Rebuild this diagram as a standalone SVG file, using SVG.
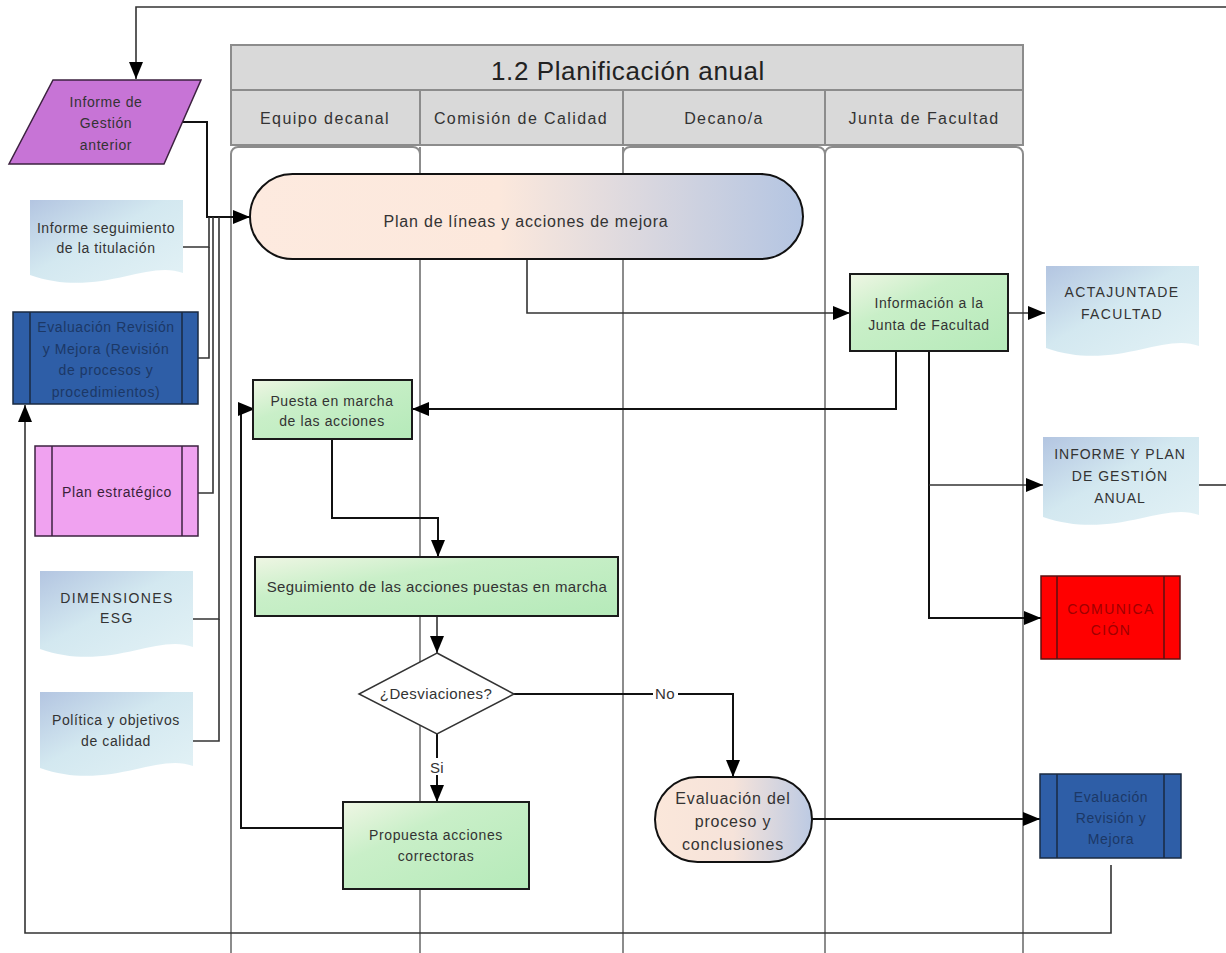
<svg xmlns="http://www.w3.org/2000/svg" width="1226" height="953" viewBox="0 0 1226 953">
  <defs>
    <style>
      text { font-family: "Liberation Sans", Arial, sans-serif; fill: #333; text-anchor: middle; }
      .lane { fill: none; stroke: #8c8c8c; stroke-width: 2; }
      .hdr { fill: #d9d9d9; stroke: #8c8c8c; stroke-width: 2; }
      .hdrtxt { font-size: 16px; letter-spacing: 1.4px; fill: #333; }
      .title { font-size: 26px; letter-spacing: 0.6px; fill: #222; }
      .box { stroke: #1a1a1a; stroke-width: 2; }
      .t13 { font-size: 14px; letter-spacing: 0.6px; }
      .t14 { font-size: 15px; letter-spacing: 0.4px; }
      .t16 { font-size: 16px; letter-spacing: 0.8px; }
      .caps { font-size: 14px; letter-spacing: 1.4px; }
      .wire { fill: none; stroke: #111; stroke-width: 2; }
      .thin { fill: none; stroke: #333; stroke-width: 1.6; }
      .doc { fill: url(#docGrad); }
      .green { fill: url(#greenGrad); }
      .sub { stroke: #1a2a40; stroke-width: 1.5; }
      .bar { stroke: #1a2a40; stroke-width: 1.5; }
      .navy { fill: #1c3866; }
    </style>
    <linearGradient id="docGrad" x1="0" y1="0" x2="1" y2="1">
      <stop offset="0" stop-color="#b3c5e1"/>
      <stop offset="0.45" stop-color="#d3e8f0"/>
      <stop offset="1" stop-color="#e3f2f6"/>
    </linearGradient>
    <linearGradient id="greenGrad" x1="0" y1="0" x2="1" y2="1">
      <stop offset="0" stop-color="#eff6e4"/>
      <stop offset="0.35" stop-color="#c9efc8"/>
      <stop offset="1" stop-color="#b5eab9"/>
    </linearGradient>
    <linearGradient id="pillGrad" x1="0" y1="0" x2="1" y2="0">
      <stop offset="0" stop-color="#fdeadf"/>
      <stop offset="0.45" stop-color="#fce8dc"/>
      <stop offset="1" stop-color="#b4c5e2"/>
    </linearGradient>
    <linearGradient id="pill2Grad" x1="0" y1="0" x2="1" y2="0">
      <stop offset="0" stop-color="#fbe7da"/>
      <stop offset="0.5" stop-color="#f6e3da"/>
      <stop offset="1" stop-color="#bccae3"/>
    </linearGradient>
    <marker id="arr" viewBox="0 0 17 14" refX="17" refY="7" markerWidth="17" markerHeight="14" markerUnits="userSpaceOnUse" orient="auto">
      <path d="M0,0 L17,7 L0,14 z" fill="#000"/>
    </marker>
  </defs>

  <rect width="1226" height="953" fill="#fff"/>

  <!-- swimlane frame -->
  <g id="pool">
    <rect class="lane" x="231" y="147" width="189" height="815" rx="7"/>
    <rect class="lane" x="623" y="147" width="202" height="815" rx="7"/>
    <rect class="lane" x="825" y="147" width="198" height="815" rx="7"/>
    <line class="lane" x1="420" y1="147" x2="420" y2="962"/>
    <line class="lane" x1="623" y1="147" x2="623" y2="962"/>
    <rect class="hdr" x="231" y="45" width="792" height="45"/>
    <text class="title" x="628" y="80">1.2 Planificación anual</text>
    <rect class="hdr" x="231" y="90" width="189" height="55"/>
    <rect class="hdr" x="420" y="90" width="203" height="55"/>
    <rect class="hdr" x="623" y="90" width="202" height="55"/>
    <rect class="hdr" x="825" y="90" width="198" height="55"/>
    <text class="hdrtxt" x="325" y="124">Equipo decanal</text>
    <text class="hdrtxt" x="521" y="124">Comisión de Calidad</text>
    <text class="hdrtxt" x="724" y="124">Decano/a</text>
    <text class="hdrtxt" x="924" y="124">Junta de Facultad</text>
  </g>

  <!-- connectors -->
  <g id="connectors">
    <path class="thin" d="M1226,7 H136 V79" marker-end="url(#arr)"/>
    <path class="thin" d="M1199,485 H1226"/>
    <path class="wire" d="M182,122 H207 V217 H250" marker-end="url(#arr)"/>
    <path class="thin" d="M183,247 H209 V217"/>
    <path class="thin" d="M198,358 H209 V247"/>
    <path class="thin" d="M198,493 H213 V217"/>
    <path class="thin" d="M193,619 H219 V217"/>
    <path class="thin" d="M193,741 H219 V619"/>
    <path class="thin" d="M527,259 V313 H850" marker-end="url(#arr)"/>
    <path class="thin" d="M1008,313 H1045" marker-end="url(#arr)"/>
    <path class="wire" d="M896,351 V409 H412" marker-end="url(#arr)"/>
    <path class="wire" d="M929,351 V618 H1041" marker-end="url(#arr)"/>
    <path class="thin" d="M929,485 H1043" marker-end="url(#arr)"/>
    <path class="wire" d="M332,439 V518 H438 V557" marker-end="url(#arr)"/>
    <path class="thin" d="M437,616 V653" marker-end="url(#arr)"/>
    <path class="wire" d="M437,734 V802" marker-end="url(#arr)"/>
    <path class="wire" d="M514,694 H733 V777" marker-end="url(#arr)"/>
    <path class="wire" d="M343,828 H241 V409 H255" marker-end="url(#arr)"/>
    <path class="wire" d="M812,819 H1040" marker-end="url(#arr)"/>
    <path class="thin" d="M1111,865 V933 H25 V405" marker-end="url(#arr)"/>
    <rect x="427" y="758" width="20" height="17" fill="#fff"/>
    <text class="t14" x="437" y="773">Si</text>
    <rect x="653" y="686" width="25" height="16" fill="#fff"/>
    <text class="t14" x="665" y="699">No</text>
  </g>

  <!-- inputs on the left -->
  <g id="informe-gestion-anterior">
    <polygon points="53,80 201,80 164,164 9,164" fill="#c774d6" stroke="#3d2240" stroke-width="1.5"/>
    <text class="t13" x="106" y="107">Informe de</text>
    <text class="t13" x="106" y="128">Gestión</text>
    <text class="t13" x="106" y="150">anterior</text>
  </g>

  <g id="informe-seguimiento">
    <path class="doc" d="M30,200 H183 V273 C147,259 98,299 30,275 Z"/>
    <text class="t13" x="106" y="233">Informe seguimiento</text>
    <text class="t13" x="106" y="253">de la titulación</text>
  </g>

  <g id="evaluacion-revision-procesos">
    <rect x="13" y="312" width="185" height="92" fill="#2e5ea7" class="sub"/>
    <line class="bar" x1="30" y1="312" x2="30" y2="404"/>
    <line class="bar" x1="182" y1="312" x2="182" y2="404"/>
    <text class="t13 navy" x="106" y="332">Evaluación Revisión</text>
    <text class="t13 navy" x="106" y="354">y Mejora (Revisión</text>
    <text class="t13 navy" x="106" y="375">de procesos y</text>
    <text class="t13 navy" x="106" y="397">procedimientos)</text>
  </g>

  <g id="plan-estrategico">
    <rect x="35" y="446" width="163" height="90" fill="#f0a2f0" stroke="#3d2240" stroke-width="1.5"/>
    <line x1="52" y1="446" x2="52" y2="536" stroke="#3d2240" stroke-width="1.5"/>
    <line x1="182" y1="446" x2="182" y2="536" stroke="#3d2240" stroke-width="1.5"/>
    <text class="t13" x="117" y="497" style="fill:#3a1f3a">Plan estratégico</text>
  </g>

  <g id="dimensiones-esg">
    <path class="doc" d="M40,571 H193 V647 C157,633 108,673 40,649 Z"/>
    <text class="caps" x="117" y="603">DIMENSIONES</text>
    <text class="caps" x="117" y="623">ESG</text>
  </g>

  <g id="politica-calidad">
    <path class="doc" d="M40,692 H193 V766 C157,752 108,792 40,768 Z"/>
    <text class="t13" x="116" y="725">Política y objetivos</text>
    <text class="t13" x="116" y="746">de calidad</text>
  </g>

  <!-- process steps -->
  <g id="plan-lineas-acciones">
    <rect x="250" y="174" width="553" height="85" rx="42.5" fill="url(#pillGrad)" stroke="#111" stroke-width="2"/>
    <text class="t16" x="526" y="227">Plan de líneas y acciones de mejora</text>
  </g>

  <g id="informacion-junta">
    <rect class="box green" x="850" y="274" width="158" height="77"/>
    <text class="t13" x="929" y="308">Información a la</text>
    <text class="t13" x="929" y="330">Junta de Facultad</text>
  </g>

  <g id="puesta-en-marcha">
    <rect class="box green" x="253" y="380" width="159" height="59"/>
    <text class="t13" x="332" y="406">Puesta en marcha</text>
    <text class="t13" x="332" y="426">de las acciones</text>
  </g>

  <g id="seguimiento-acciones">
    <rect class="box green" x="255" y="557" width="363" height="59"/>
    <text class="t14" x="437" y="592">Seguimiento de las acciones puestas en marcha</text>
  </g>

  <g id="desviaciones">
    <polygon points="437,653 514,694 437,734 359,694" fill="#fff" stroke="#333" stroke-width="1.5"/>
    <text class="t14" x="436" y="699">¿Desviaciones?</text>
  </g>

  <g id="propuesta-acciones">
    <rect class="box green" x="343" y="802" width="186" height="87"/>
    <text class="t13" x="436" y="840">Propuesta acciones</text>
    <text class="t13" x="436" y="861">correctoras</text>
  </g>

  <g id="evaluacion-proceso">
    <rect x="655" y="777" width="157" height="85" rx="42.5" fill="url(#pill2Grad)" stroke="#111" stroke-width="2"/>
    <text class="t16" x="733" y="804">Evaluación del</text>
    <text class="t16" x="733" y="827">proceso y</text>
    <text class="t16" x="733" y="850">conclusiones</text>
  </g>

  <!-- outputs on the right -->
  <g id="acta-junta">
    <path class="doc" d="M1046,266 H1199 V346 C1163,332 1114,372 1046,348 Z"/>
    <text class="caps" x="1122" y="297">ACTAJUNTADE</text>
    <text class="caps" x="1122" y="319">FACULTAD</text>
  </g>

  <g id="informe-plan-gestion">
    <path class="doc" d="M1043,437 H1199 V515 C1163,501 1113,541 1043,517 Z"/>
    <text class="caps" x="1120" y="459" style="letter-spacing:1px">INFORME Y PLAN</text>
    <text class="caps" x="1120" y="481" style="letter-spacing:1px">DE GESTIÓN</text>
    <text class="caps" x="1120" y="503" style="letter-spacing:1px">ANUAL</text>
  </g>

  <g id="comunicacion">
    <rect x="1041" y="576" width="139" height="83" fill="#ff0000" stroke="#5a1010" stroke-width="1.5"/>
    <line x1="1057" y1="576" x2="1057" y2="659" stroke="#5a1010" stroke-width="1.5"/>
    <line x1="1164" y1="576" x2="1164" y2="659" stroke="#5a1010" stroke-width="1.5"/>
    <text class="caps" x="1111" y="614" style="fill:#a00000">COMUNICA</text>
    <text class="caps" x="1111" y="635" style="fill:#a00000">CIÓN</text>
  </g>

  <g id="evaluacion-revision-mejora">
    <rect x="1040" y="774" width="141" height="84" fill="#2e5ea7" class="sub"/>
    <line class="bar" x1="1057" y1="774" x2="1057" y2="858"/>
    <line class="bar" x1="1164" y1="774" x2="1164" y2="858"/>
    <text class="t13 navy" x="1111" y="802">Evaluación</text>
    <text class="t13 navy" x="1111" y="823">Revisión y</text>
    <text class="t13 navy" x="1111" y="844">Mejora</text>
  </g>
</svg>
